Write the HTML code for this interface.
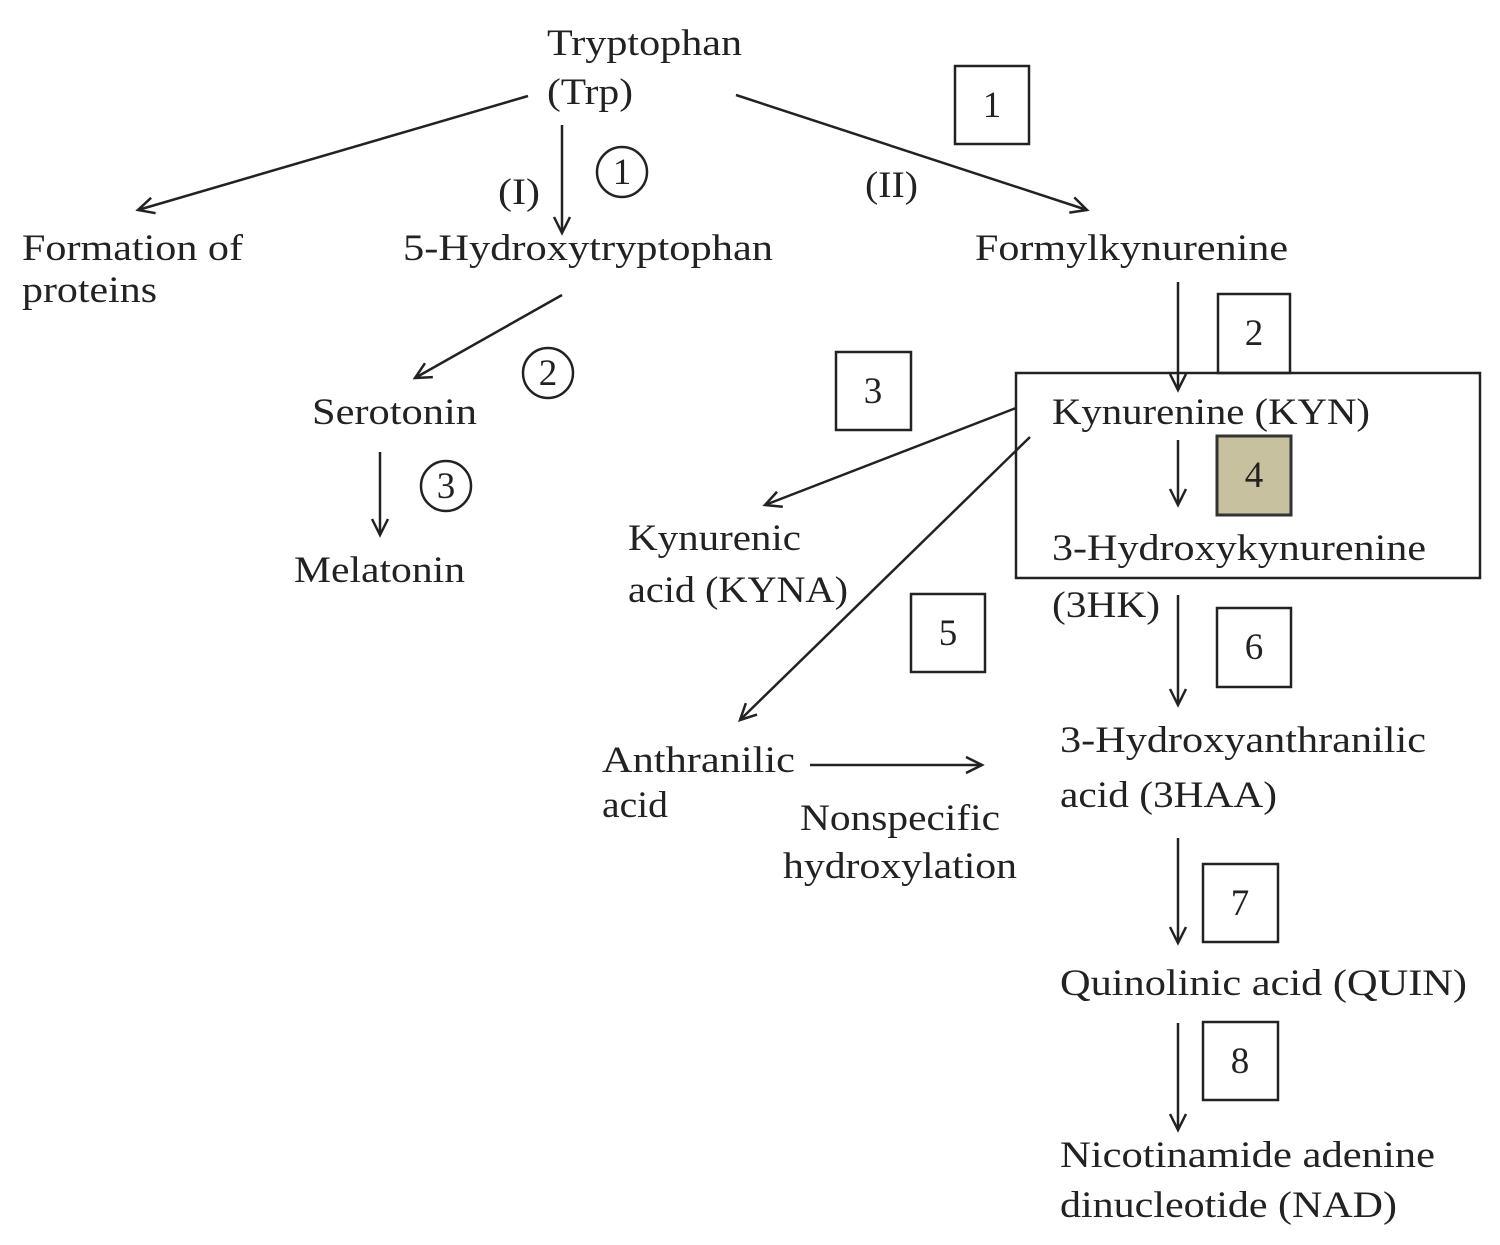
<!DOCTYPE html>
<html><head><meta charset="utf-8"><style>
html,body{margin:0;padding:0;background:#fff;}
svg{display:block;}
text{font-family:"Liberation Serif",serif;font-size:37px;fill:#222;}
text.n{font-size:37px;}
</style></head><body>
<svg width="1500" height="1245" viewBox="0 0 1500 1245" xmlns="http://www.w3.org/2000/svg">
<defs>
<marker id="a" markerWidth="24" markerHeight="24" refX="20" refY="12" orient="auto" markerUnits="userSpaceOnUse">
<path d="M4,4 L20,12 L4,20" fill="none" stroke="#222" stroke-width="2.5"/>
</marker>
</defs>
<g stroke="#222" stroke-width="2.5" fill="none">
<line x1="528" y1="96" x2="138" y2="210" marker-end="url(#a)"/>
<line x1="562" y1="125" x2="562" y2="233" marker-end="url(#a)"/>
<line x1="736" y1="95" x2="1087" y2="210" marker-end="url(#a)"/>
<line x1="562" y1="295" x2="415" y2="378" marker-end="url(#a)"/>
<line x1="380" y1="452" x2="380" y2="535" marker-end="url(#a)"/>
<line x1="1178" y1="282" x2="1178" y2="390" marker-end="url(#a)"/>
<line x1="1016" y1="408" x2="765" y2="505" marker-end="url(#a)"/>
<line x1="1030" y1="437" x2="740" y2="720" marker-end="url(#a)"/>
<line x1="1178" y1="440" x2="1178" y2="505" marker-end="url(#a)"/>
<line x1="1178" y1="595" x2="1178" y2="705" marker-end="url(#a)"/>
<line x1="810" y1="765" x2="982" y2="765" marker-end="url(#a)"/>
<line x1="1178" y1="838" x2="1178" y2="943" marker-end="url(#a)"/>
<line x1="1178" y1="1023" x2="1178" y2="1130" marker-end="url(#a)"/>
<rect x="955" y="66" width="74" height="78"/>
<rect x="1218" y="294" width="72" height="79"/>
<rect x="836" y="352" width="75" height="78"/>
<rect x="1016" y="373" width="464" height="205"/>
<rect x="1217" y="436" width="74" height="79" fill="#c8c1a0" stroke="#333" stroke-width="3"/>
<rect x="911" y="594" width="74" height="78"/>
<rect x="1217" y="608" width="74" height="79"/>
<rect x="1203" y="864" width="75" height="78"/>
<rect x="1203" y="1022" width="75" height="78"/>
<circle cx="622" cy="172" r="25"/>
<circle cx="548" cy="373" r="25"/>
<circle cx="446" cy="486" r="25"/>
</g>
<g text-anchor="middle">
<text class="n" x="992" y="117">1</text>
<text class="n" x="1254" y="345">2</text>
<text class="n" x="873" y="403">3</text>
<text class="n" x="1254" y="487">4</text>
<text class="n" x="948" y="645">5</text>
<text class="n" x="1254" y="659">6</text>
<text class="n" x="1240" y="915">7</text>
<text class="n" x="1240" y="1073">8</text>
<text class="n" x="622" y="184">1</text>
<text class="n" x="548" y="385">2</text>
<text class="n" x="446" y="498">3</text>
</g>
<g>
<text x="547" y="55" textLength="195" lengthAdjust="spacingAndGlyphs">Tryptophan</text>
<text x="547" y="104" textLength="86" lengthAdjust="spacingAndGlyphs">(Trp)</text>
<text x="498" y="204" textLength="42" lengthAdjust="spacingAndGlyphs">(I)</text>
<text x="865" y="197" textLength="53" lengthAdjust="spacingAndGlyphs">(II)</text>
<text x="22" y="260" textLength="221" lengthAdjust="spacingAndGlyphs">Formation of</text>
<text x="22" y="302" textLength="135" lengthAdjust="spacingAndGlyphs">proteins</text>
<text x="403" y="260" textLength="370" lengthAdjust="spacingAndGlyphs">5-Hydroxytryptophan</text>
<text x="975" y="260" textLength="313" lengthAdjust="spacingAndGlyphs">Formylkynurenine</text>
<text x="312" y="424" textLength="165" lengthAdjust="spacingAndGlyphs">Serotonin</text>
<text x="294" y="582" textLength="171" lengthAdjust="spacingAndGlyphs">Melatonin</text>
<text x="1052" y="424" textLength="318" lengthAdjust="spacingAndGlyphs">Kynurenine (KYN)</text>
<text x="1052" y="560" textLength="374" lengthAdjust="spacingAndGlyphs">3-Hydroxykynurenine</text>
<text x="1052" y="617" textLength="108" lengthAdjust="spacingAndGlyphs">(3HK)</text>
<text x="628" y="550" textLength="173" lengthAdjust="spacingAndGlyphs">Kynurenic</text>
<text x="628" y="602" textLength="220" lengthAdjust="spacingAndGlyphs">acid (KYNA)</text>
<text x="602" y="772" textLength="193" lengthAdjust="spacingAndGlyphs">Anthranilic</text>
<text x="602" y="817" textLength="66" lengthAdjust="spacingAndGlyphs">acid</text>
<text x="800" y="830" textLength="200" lengthAdjust="spacingAndGlyphs">Nonspecific</text>
<text x="783" y="878" textLength="234" lengthAdjust="spacingAndGlyphs">hydroxylation</text>
<text x="1060" y="752" textLength="366" lengthAdjust="spacingAndGlyphs">3-Hydroxyanthranilic</text>
<text x="1060" y="807" textLength="217" lengthAdjust="spacingAndGlyphs">acid (3HAA)</text>
<text x="1060" y="995" textLength="407" lengthAdjust="spacingAndGlyphs">Quinolinic acid (QUIN)</text>
<text x="1060" y="1167" textLength="375" lengthAdjust="spacingAndGlyphs">Nicotinamide adenine</text>
<text x="1060" y="1217" textLength="337" lengthAdjust="spacingAndGlyphs">dinucleotide (NAD)</text>
</g>
</svg>
</body></html>
